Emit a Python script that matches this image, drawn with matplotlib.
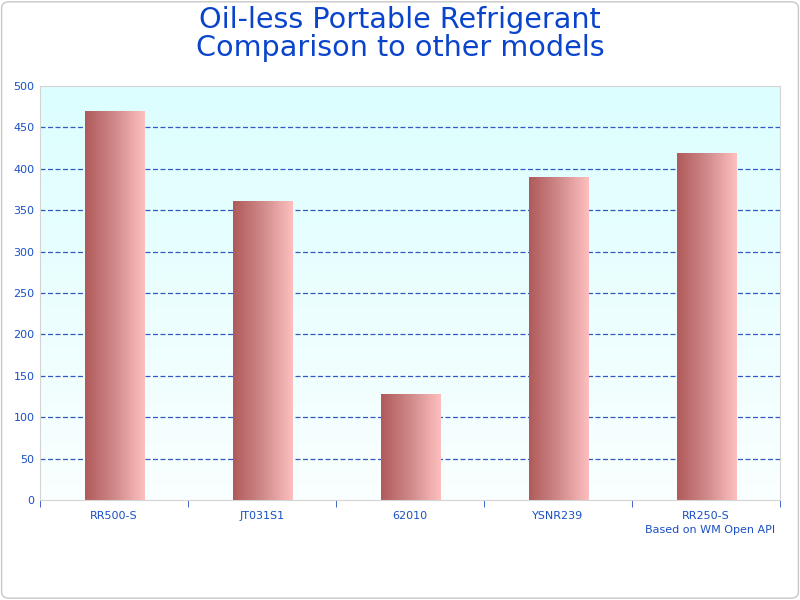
import matplotlib.pyplot as plt
import numpy as np
from matplotlib.colors import LinearSegmentedColormap
from matplotlib.patches import FancyBboxPatch

models = ["RR500-S", "JT031S1", "62010", "YSNR239", "RR250-S"]
values = [469, 360, 128, 390, 419]
y_ticks = list(range(0, 501, 50))

blue = "#1a4fc4"
bar_cmap = LinearSegmentedColormap.from_list("bar", ["#b05a5a", "#d08a8a", "#ffbfbf"])
bg_cmap = LinearSegmentedColormap.from_list("bg", ["#fafefe", "#dcffff"])

fig = plt.figure(figsize=(8, 6), dpi=100)
ax = fig.add_axes([0.05, 1 - 500 / 600, 0.925, 414 / 600])

# background gradient
grad = np.linspace(0, 1, 256).reshape(-1, 1)
ax.imshow(grad, cmap=bg_cmap, aspect="auto", origin="lower",
          extent=[-0.5, len(models) - 0.5, 0, 500], zorder=0)

for y in y_ticks[1:-1]:
    ax.axhline(y, color="#3358c4", linestyle=(0, (4, 2)), linewidth=0.9, zorder=1)

# bars with horizontal gradient
width = 0.405
hgrad = np.linspace(0, 1, 256).reshape(1, -1)
bars = ax.bar(np.arange(len(models)) + 0.005, values, width=width, color="none", zorder=2)
for b in bars:
    x0 = b.get_x()
    ax.imshow(hgrad, cmap=bar_cmap, aspect="auto",
              extent=[x0, x0 + b.get_width(), 0, b.get_height()], zorder=2)

ax.set_xlim(-0.5, len(models) - 0.5)
ax.set_ylim(0, 500)
ax.set_yticks(y_ticks)
ax.tick_params(axis="y", length=0, labelsize=8, colors=blue, pad=4)
ax.set_xticks(range(len(models)))
ax.set_xticklabels(models)
ax.tick_params(axis="x", length=0, labelsize=8, colors=blue, pad=8)
ax.set_xticks(np.arange(-0.5, len(models)), minor=True)
ax.tick_params(axis="x", which="minor", length=5, color=blue, direction="out")

for s in ax.spines.values():
    s.set_color("#d4d4d4")

fig.suptitle("Oil-less Portable Refrigerant\nComparison to other models",
             color="#0a44cc", fontsize=20.6, y=0.99, linespacing=1.02)
fig.text(775 / 800, 1 - 530 / 600, "Based on WM Open API", color=blue,
         fontsize=8, ha="right", va="center")

fig.patches.append(FancyBboxPatch((0.002, 0.003), 0.996, 0.994,
                                  boxstyle="round,pad=0,rounding_size=0.01",
                                  transform=fig.transFigure, fill=False,
                                  edgecolor="#c8c8c8", linewidth=1))

fig.savefig("out.png", dpi=100)
